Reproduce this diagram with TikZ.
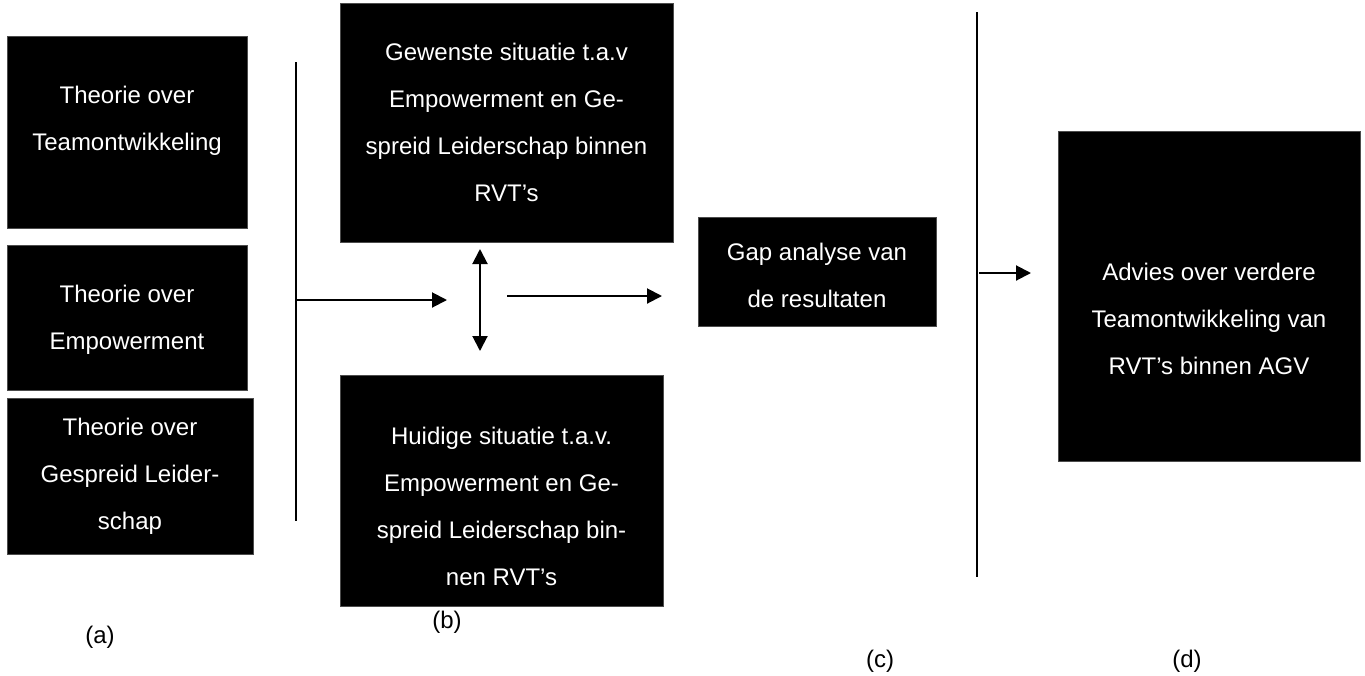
\documentclass[tikz,border=0pt]{standalone}
\usepackage{fontspec}
\setmainfont{Liberation Sans}
\usetikzlibrary{arrows.meta}
\begin{document}
\begin{tikzpicture}[x=0.5pt,y=-0.5pt,
  box/.style={fill=black, draw=black!70, line width=0.4pt, inner sep=0pt},
  txt/.style={text=white, inner sep=0pt, align=center, font=\fontsize{12}{23.5}\selectfont},
  vline/.style={line width=1.1pt},
  conn/.style={line width=1pt, -{Triangle[length=7.5pt,width=7.5pt]}},
  dconn/.style={line width=1pt, {Triangle[length=7.5pt,width=7.5pt]}-{Triangle[length=7.5pt,width=7.5pt]}},
  lab/.style={font=\fontsize{12}{14}\selectfont, inner sep=0pt}]
\useasboundingbox (0,0) rectangle (1365,675);
% column (a)
\node[box, minimum width=120pt, minimum height=96pt] (A1) at (127,132) {};
\node[txt] (A1t) at (127,121) {Theorie over\\Teamontwikkeling};
\node[box, minimum width=120pt, minimum height=72.5pt] (A2) at (127,317.5) {};
\node[txt] (A2t) at (127,320) {Theorie over\\Empowerment};
\node[box, minimum width=123pt, minimum height=78pt] (A3) at (130,476) {};
\node[txt] (A3t) at (130,476) {Theorie over\\Gespreid Leider-\\schap};
% bracket line (a)->(b)
\coordinate (L1t) at (296,62);
\coordinate (L1b) at (296,521);
\coordinate (L1m) at (296,300);
\draw[vline] (L1t) -- (L1b);
\coordinate (Ar1) at (447,300);
\draw[conn] (L1m) -- (Ar1);
% column (b)
\node[box, minimum width=166.5pt, minimum height=119.5pt] (B1) at (506.5,122.5) {};
\node[txt] (B1t) at (506.5,122.5) {Gewenste situatie t.a.v\\Empowerment en Ge-\\spreid Leiderschap binnen\\RVT’s};
\node[box, minimum width=161.5pt, minimum height=115.5pt] (B2) at (501.5,490.5) {};
\node[txt] (B2t) at (501.5,506.5) {Huidige situatie t.a.v.\\Empowerment en Ge-\\spreid Leiderschap bin-\\nen RVT’s};
\coordinate (Dt) at (480,249);
\coordinate (Db) at (480,351);
\draw[dconn] (Dt) -- (Db);
\coordinate (Ar2s) at (507,296);
\coordinate (Ar2e) at (662,296);
\draw[conn] (Ar2s) -- (Ar2e);
% column (c)
\node[box, minimum width=119pt, minimum height=54.5pt] (C) at (817,271.5) {};
\node[txt] (Ct) at (817,275) {Gap analyse van\\de resultaten};
\coordinate (L2t) at (977,12);
\coordinate (L2b) at (977,577);
\draw[vline] (L2t) -- (L2b);
\coordinate (Ar3s) at (979,273);
\coordinate (Ar3e) at (1031,273);
\draw[conn] (Ar3s) -- (Ar3e);
% column (d)
\node[box, minimum width=151pt, minimum height=165pt] (D) at (1209,296) {};
\node[txt] (Dt) at (1209,318.5) {Advies over verdere\\Teamontwikkeling van\\RVT’s binnen AGV};
% labels
\node[lab] (la) at (100,637) {(a)};
\node[lab] (lb) at (447,622) {(b)};
\node[lab] (lc) at (880,661) {(c)};
\node[lab] (ld) at (1187,661) {(d)};
\end{tikzpicture}
\end{document}
